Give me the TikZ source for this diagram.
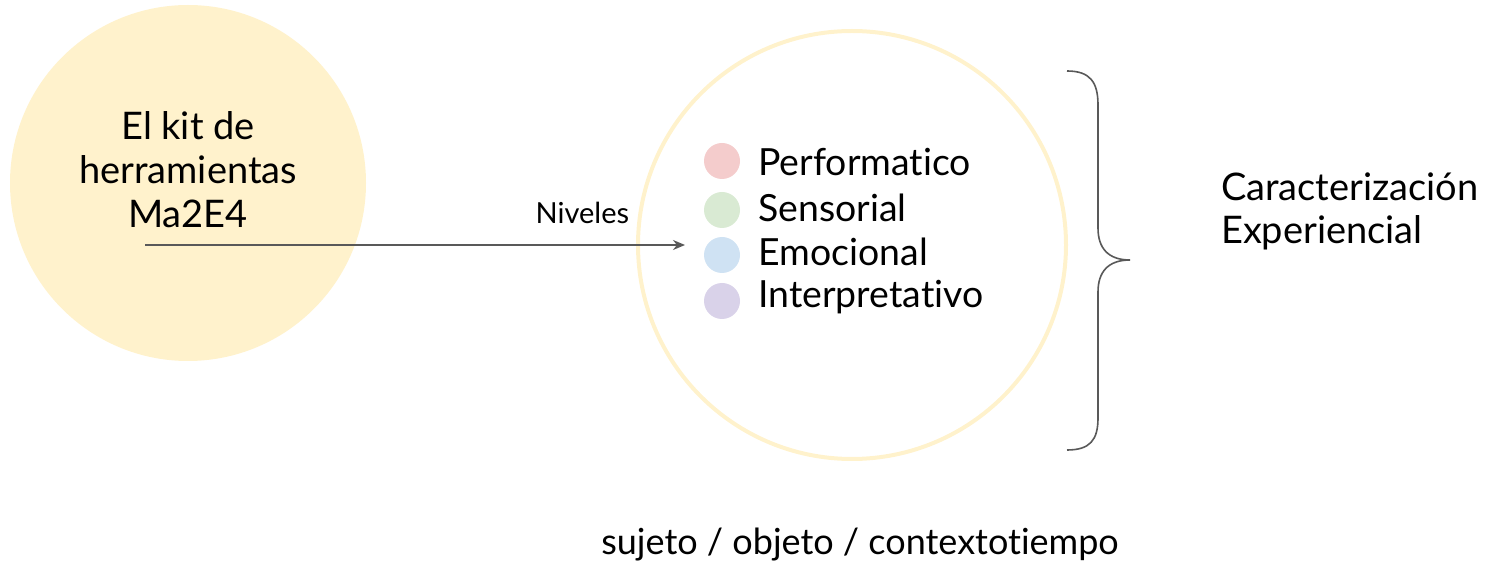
\documentclass[tikz,border=0pt]{standalone}
\usepackage{fontspec}
\setmainfont[Ligatures=NoCommon]{Lato}
\usetikzlibrary{positioning,calc,arrows.meta}
\definecolor{amarillo}{HTML}{FFF2CC}
\definecolor{gris}{HTML}{595959}
\definecolor{rosa}{HTML}{F4CCCC}
\definecolor{verde}{HTML}{D9EAD3}
\definecolor{azul}{HTML}{CFE2F3}
\definecolor{lila}{HTML}{D9D2E9}
\tikzstyle{arrow} = [line width=0.8pt,draw=gris,-{Stealth[length=6pt,width=5pt]}]
\tikzstyle{punto} = [circle,minimum size=18pt,inner sep=0pt]
\tikzstyle{nivel} = [anchor=west,inner sep=0pt,font=\fontsize{18.7}{20}\selectfont]

\begin{document}
\begin{tikzpicture}[x=0.5pt,y=-0.5pt]
    \useasboundingbox (0,0) rectangle (1488,566);
    % circulo del kit
    \node[circle,fill=amarillo,minimum size=178pt,inner sep=0pt](kit) at (188,183){};
    \node[align=center,font=\fontsize{19}{22}\selectfont](kittxt) at (188,170){El kit de\\herramientas\\Ma2E4};
    % circulo de niveles
    \node[circle,draw=amarillo,line width=2pt,minimum size=214pt,inner sep=0pt](niv) at (852,245){};
    \coordinate (a) at (145,245);
    \coordinate (b) at (685,245);
    \draw[arrow] (a) -- node[pos=0.81,above=7pt,font=\fontsize{14.5}{16}\selectfont]{Niveles} (b);
    % niveles
    \node[punto,fill=rosa](p1) at (722,161){};
    \node[punto,fill=verde](p2) at (722,210){};
    \node[punto,fill=azul](p3) at (722,255){};
    \node[punto,fill=lila](p4) at (722,301){};
    \node[nivel](n1) at (758,162){Performatico};
    \node[nivel](n2) at (758,208){Sensorial};
    \node[nivel](n3) at (758,252){Emocional};
    \node[nivel](n4) at (758,297){Interpretativo};
    % llave
    \coordinate (t) at (1067,71);
    \coordinate (m) at (1130,260);
    \coordinate (u) at (1067,450);
    \draw[gris,line width=0.8pt] (t) .. controls (1090,71) and (1098,82) .. (1098,105)
        -- (1098,228) .. controls (1098,248) and (1108,260) .. (m)
        .. controls (1108,260) and (1098,272) .. (1098,292)
        -- (1098,418) .. controls (1098,440) and (1090,450) .. (u);
    \node[anchor=west,align=left,font=\fontsize{19}{21.5}\selectfont](car) at (1214,211){Caracterización\\Experiencial};
    \node[font=\fontsize{18}{20}\selectfont](suj) at (860,545){sujeto / objeto / contextotiempo};
\end{tikzpicture}
\end{document}
